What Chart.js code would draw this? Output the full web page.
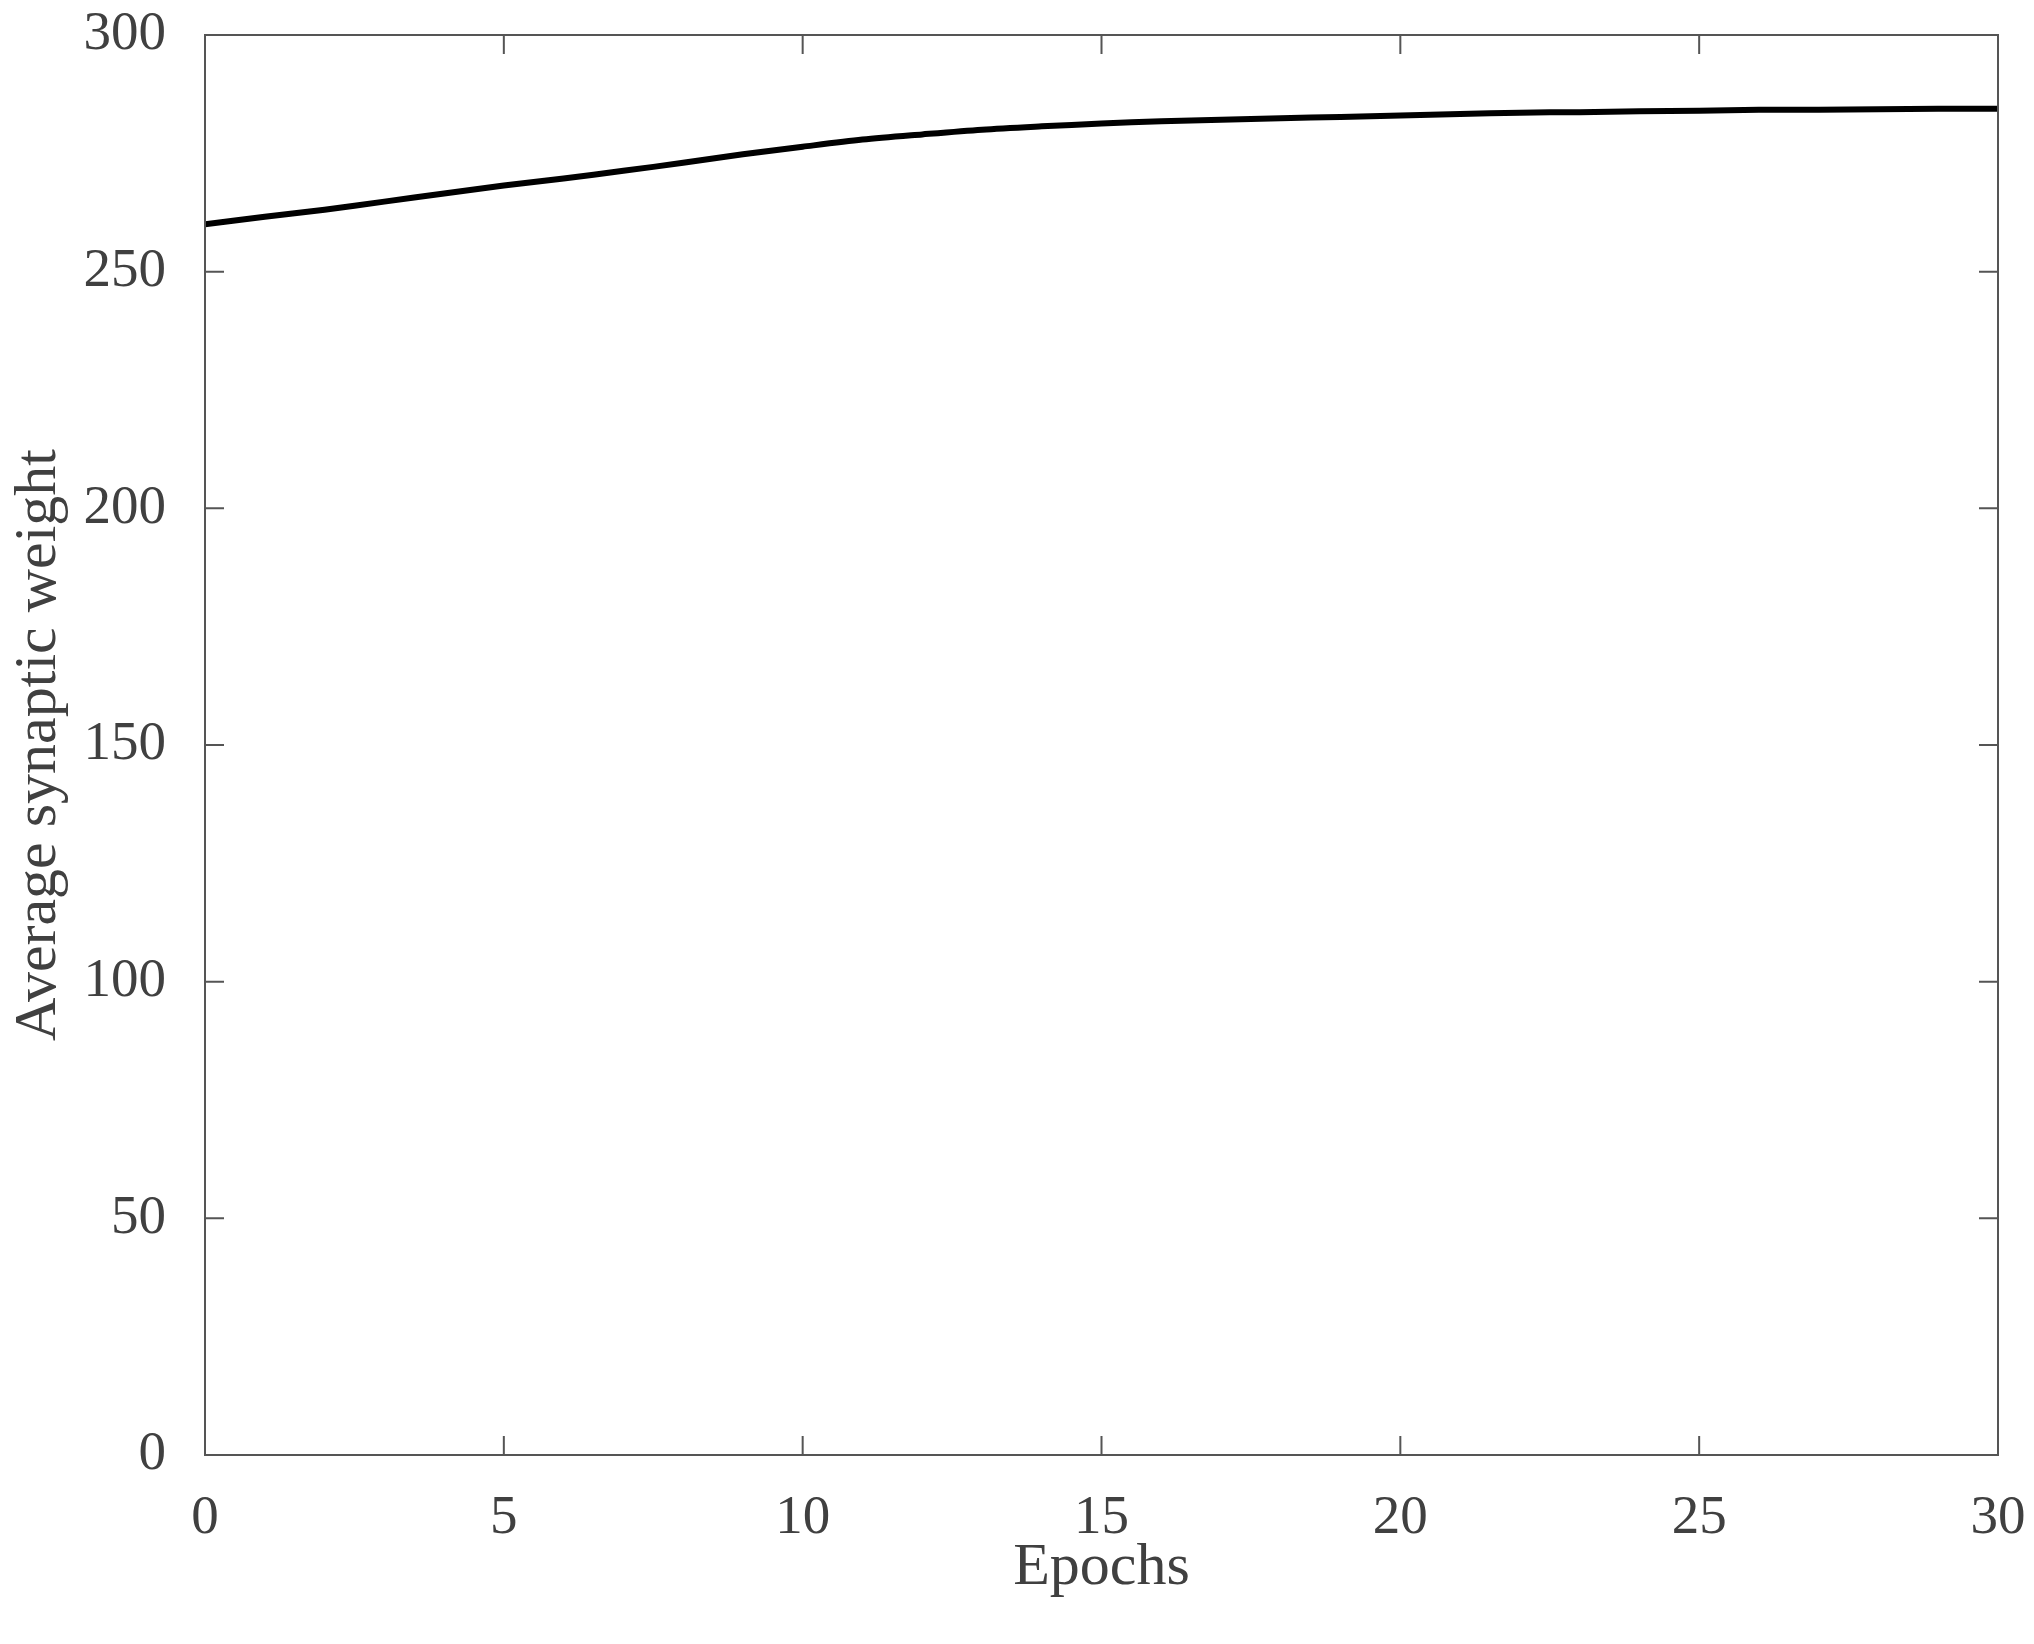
<!DOCTYPE html>
<html>
<head>
<meta charset="utf-8">
<script src="https://cdn.jsdelivr.net/npm/chart.js@4/dist/chart.umd.min.js"></script>
<style>
  body { margin: 0; background: #fff; }
  canvas { display: block; }
</style>
</head>
<body>
<canvas id="grafica" width="2034" height="1644"></canvas>
<script>
// datos
var epocas = [0,1,2,3,4,5,6,7,8,9,10,11,12,13,14,15,16,17,18,19,20,21,22,23,24,25,26,27,28,29,30];
var pesoPromedio = [260.0,261.6,263.1,264.8,266.5,268.2,269.7,271.3,273.0,274.8,276.4,277.9,279.0,280.0,280.7,281.3,281.8,282.1,282.4,282.7,283.0,283.3,283.6,283.7,283.9,284.0,284.2,284.2,284.3,284.4,284.4];
var ticksX = [0,5,10,15,20,25,30];
var ticksY = [0,50,100,150,200,250,300];

var colorTexto = '#404040';
var colorCaja = '#555555';

// caja alrededor del area y marcas hacia adentro en los 4 lados
var cajaPlugin = {
    id: 'caja',
    afterDraw: function(chart) {
        var ctx = chart.ctx;
        var a = chart.chartArea;
        var x = chart.scales.x;
        var y = chart.scales.y;
        var largo = 19;
        ctx.save();
        ctx.strokeStyle = colorCaja;
        ctx.lineWidth = 2;
        ctx.strokeRect(a.left, a.top, a.right - a.left, a.bottom - a.top);
        ctx.beginPath();
        for (var t of ticksX) {
            var px = x.getPixelForValue(t);
            ctx.moveTo(px, a.bottom); ctx.lineTo(px, a.bottom - largo);
            ctx.moveTo(px, a.top); ctx.lineTo(px, a.top + largo);
        }
        for (var t of ticksY) {
            var py = y.getPixelForValue(t);
            ctx.moveTo(a.left, py); ctx.lineTo(a.left + largo, py);
            ctx.moveTo(a.right, py); ctx.lineTo(a.right - largo, py);
        }
        ctx.stroke();
        ctx.restore();
    }
};

var puntos = epocas.map(function(e, i) { return {x: e, y: pesoPromedio[i]}; });

var ctx = document.getElementById('grafica').getContext('2d');
var miGrafico = new Chart(ctx, {
    type: 'line',
    data: {
        datasets: [{
            label: 'Average synaptic weight',
            data: puntos,
            borderColor: '#000000',
            borderWidth: 6,
            pointRadius: 0,
            tension: 0.3,
            fill: false
        }]
    },
    options: {
        responsive: false,
        animation: false,
        layout: { padding: { top: 35, right: 36, left: 0, bottom: 0 } },
        plugins: { legend: { display: false }, tooltip: { enabled: false } },
        scales: {
            x: {
                type: 'linear',
                min: 0,
                max: 30,
                afterBuildTicks: function(s) { s.ticks = ticksX.map(function(v) { return {value: v}; }); },
                afterFit: function(s) { s.height = 189; s.paddingLeft = 0; s.paddingRight = 0; },
                grid: { display: false, drawTicks: false },
                border: { display: false },
                ticks: { color: colorTexto, padding: 31, maxRotation: 0, font: { family: 'Liberation Serif', size: 55 } },
                title: { display: true, text: 'Epochs', color: colorTexto, padding: { top: 0, bottom: 40 }, font: { family: 'Liberation Serif', size: 60 } }
            },
            y: {
                min: 0,
                max: 300,
                afterBuildTicks: function(s) { s.ticks = ticksY.map(function(v) { return {value: v}; }); },
                afterFit: function(s) { s.width = 205; s.paddingTop = 0; s.paddingBottom = 0; },
                grid: { display: false, drawTicks: false },
                border: { display: false },
                ticks: { color: colorTexto, padding: 39, font: { family: 'Liberation Serif', size: 55 } },
                title: { display: true, text: 'Average synaptic weight', color: colorTexto, padding: { top: 3, bottom: 0 }, font: { family: 'Liberation Serif', size: 60 } }
            }
        }
    },
    plugins: [cajaPlugin]
});
</script>
</body>
</html>
